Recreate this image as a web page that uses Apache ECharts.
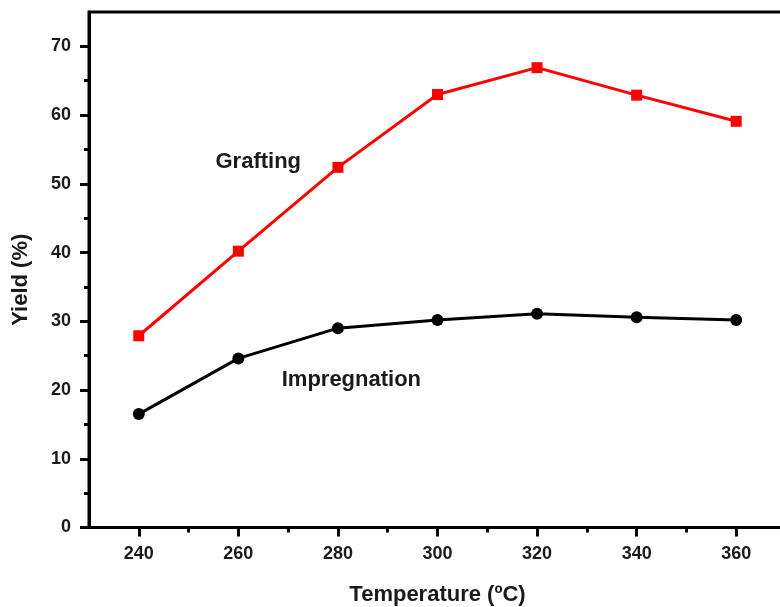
<!DOCTYPE html>
<html>
<head>
<meta charset="utf-8">
<script src="https://cdn.jsdelivr.net/npm/echarts@6/dist/echarts.min.js"></script>
<style>html,body{margin:0;padding:0;background:#fff}#c{width:780px;height:607px}</style>
</head>
<body>
<div id="c"></div>
<script>
const temperatures = [240, 260, 280, 300, 320, 340, 360];
const grafting = [27.9, 40.2, 52.4, 63.0, 66.9, 62.9, 59.1];
const impregnation = [16.5, 24.6, 29.0, 30.2, 31.1, 30.6, 30.2];
const xMajorTicks = [240, 260, 280, 300, 320, 340, 360];
const xMinorTicks = [250, 270, 290, 310, 330, 350];
const yMajorTicks = [0, 10, 20, 30, 40, 50, 60, 70];
const yMinorTicks = [5, 15, 25, 35, 45, 55, 65];
const graftingLabelAt = [264, 53.2];
const impregnationLabelAt = [282.7, 21.5];

const FONT = '"Liberation Sans", Arial, sans-serif';
const TXT = '#1a1a1a';
const GRID_W = 697, GRID_H = 515.5;
const axisLine = { show: true, lineStyle: { color: '#000', width: 3 } };

const chart = echarts.init(document.getElementById('c'), null, { renderer: 'canvas' });
chart.setOption({
  animation: false,
  backgroundColor: '#fff',
  grid: {
    left: 89, top: 12, width: GRID_W, height: GRID_H,
    outerBoundsMode: 'none', containLabel: false,
    show: true, borderColor: '#000', borderWidth: 3, backgroundColor: 'transparent'
  },
  xAxis: [
    {
      type: 'value', min: 230, max: 370, position: 'bottom',
      name: 'Temperature (ºC)', nameLocation: 'middle', nameGap: 56,
      nameTextStyle: { fontFamily: FONT, fontWeight: 'bold', fontSize: 22, color: TXT },
      axisLine: axisLine,
      axisTick: { show: true, customValues: xMajorTicks, length: 9, lineStyle: { width: 3, color: '#000' } },
      axisLabel: { show: true, customValues: xMajorTicks, margin: 18, fontFamily: FONT, fontWeight: 'bold', fontSize: 18, color: TXT },
      splitLine: { show: false }
    },
    {
      type: 'value', min: 230, max: 370, position: 'top', offset: -GRID_H,
      axisLine: { show: false },
      axisTick: { show: true, inside: true, customValues: xMinorTicks, length: 5, lineStyle: { width: 3, color: '#000' } },
      axisLabel: { show: false },
      splitLine: { show: false }
    }
  ],
  yAxis: [
    {
      type: 'value', min: 0, max: 75, position: 'left',
      name: 'Yield (%)', nameLocation: 'middle', nameGap: 57,
      nameTextStyle: { fontFamily: FONT, fontWeight: 'bold', fontSize: 22, color: TXT, padding: [0, 20, 0, 0] },
      axisLine: axisLine,
      axisTick: { show: true, customValues: yMajorTicks, length: 9, lineStyle: { width: 3, color: '#000' } },
      axisLabel: { show: true, customValues: yMajorTicks, margin: 18, fontFamily: FONT, fontWeight: 'bold', fontSize: 18, color: TXT },
      splitLine: { show: false }
    },
    {
      type: 'value', min: 0, max: 75, position: 'right', offset: -GRID_W,
      axisLine: { show: false },
      axisTick: { show: true, inside: true, customValues: yMinorTicks, length: 5, lineStyle: { width: 3, color: '#000' } },
      axisLabel: { show: false },
      splitLine: { show: false }
    }
  ],
  series: [
    {
      name: 'Grafting', type: 'line',
      data: temperatures.map((t, i) => [t, grafting[i]]),
      symbol: 'rect', symbolSize: 11,
      lineStyle: { color: '#ff0000', width: 3 },
      itemStyle: { color: '#ff0000' },
      markPoint: {
        symbol: 'circle', symbolSize: 0,
        label: { show: true, position: 'inside', formatter: 'Grafting', fontFamily: FONT, fontWeight: 'bold', fontSize: 22, color: TXT },
        data: [{ coord: graftingLabelAt }]
      }
    },
    {
      name: 'Impregnation', type: 'line',
      data: temperatures.map((t, i) => [t, impregnation[i]]),
      symbol: 'circle', symbolSize: 12,
      lineStyle: { color: '#000', width: 3 },
      itemStyle: { color: '#000' },
      markPoint: {
        symbol: 'circle', symbolSize: 0,
        label: { show: true, position: 'inside', formatter: 'Impregnation', fontFamily: FONT, fontWeight: 'bold', fontSize: 22, color: TXT },
        data: [{ coord: impregnationLabelAt }]
      }
    }
  ]
});
</script>
</body>
</html>
